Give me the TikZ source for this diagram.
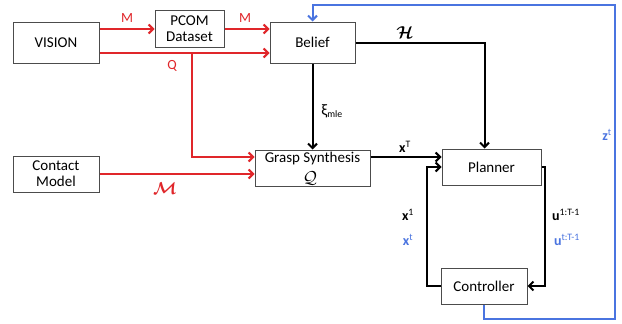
\documentclass[tikz,border=0pt]{standalone}
\usepackage{amsmath}
\usepackage{bm}
\usepackage{fontspec}
\setmainfont{Carlito}
\usetikzlibrary{arrows.meta,calc}
\definecolor{myred}{HTML}{E0262A}
\definecolor{myblue}{HTML}{4A74E0}
\begin{document}
\begin{tikzpicture}[x=1pt,y=-1pt,
  box/.style={draw=black!70, line width=1pt, inner sep=0pt, align=center, font=\fontsize{15}{16}\selectfont},
  conn/.style={line width=2pt, -{Straight Barb[length=4.5pt,width=9pt]}},
  redc/.style={conn, draw=myred},
  blkc/.style={conn, draw=black},
  bluec/.style={conn, draw=myblue},
  lab/.style={font=\fontsize{14}{15}\selectfont, inner sep=0pt},
  mlab/.style={font=\fontsize{17}{18}\selectfont, inner sep=0pt}]
\useasboundingbox (0,0) rectangle (622,324);
\fill[white] (0,0) rectangle (622,324);
\node[box, minimum width=86pt, minimum height=41pt] (vision) at (56,42.5) {VISION};
\node[box, minimum width=69pt, minimum height=37pt] (pcom) at (189.5,29) {PCOM\\Dataset};
\node[box, minimum width=85pt, minimum height=41pt] (belief) at (312.5,42.5) {Belief};
\node[box, minimum width=115pt, minimum height=36pt] (grasp) at (312.5,168) {};
\node[box, draw=none] (graspt) at (312.5,159) {Grasp Synthesis};
\node[box, draw=none, font=\fontsize{16}{17}\selectfont] (graspq) at (310,178) {$\mathcal{Q}$};
\node[box, minimum width=86pt, minimum height=36pt] (contact) at (56,174) {Contact\\Model};
\node[box, minimum width=99pt, minimum height=36pt] (planner) at (491.5,167) {Planner};
\node[box, minimum width=86pt, minimum height=36pt] (controller) at (484,286) {Controller};
% red
\draw[redc] (vision.east |- pcom.west) -- (pcom.west);
\draw[redc] (pcom.east) -- (belief.west |- pcom.east);
\draw[redc] ($(vision.east)+(0,10.5)$) -- ($(belief.west)+(0,10.5)$);
\coordinate (br) at (192,53);
\draw[redc] (br) |- ($(grasp.west)+(0,-11)$);
\draw[redc] (contact.east) -- (grasp.west |- contact.east);
% black
\draw[blkc] (belief.south) -- (grasp.north);
\draw[blkc] (belief.east) -| ($(planner.north)+(-7,0)$);
\draw[blkc] ($(grasp.east)+(0,-11)$) -- ($(planner.west)+(0,-10)$);
\draw[blkc] (planner.east) -- ++(3,0) |- (controller.east);
\draw[blkc] (controller.west) -- ++(-14,0) |- (planner.west);
% blue
\coordinate (c1) at (615,319);
\coordinate (c2) at (615,5);
\draw[bluec] (controller.south) |- (c1) -- (c2) -| (belief.north);
% labels
\node[lab, text=myred] (lm1) at (127,18) {M};
\node[lab, text=myred] (lm2) at (245,18) {M};
\node[lab, text=myred] (lq) at (172,66) {Q};
\node[mlab, text=myred] (lcm) at (165,189) {$\bm{\mathcal{M}}$};
\node[mlab] (lh) at (405,33) {$\bm{\mathcal{H}}$};
\node[lab] (lxi) at (332,111) {{\fontsize{16}{16}\selectfont ξ}\textsubscript{mle}};
\node[lab] (lxT) at (405,147) {\textbf{x}\textsuperscript{T}};
\node[lab] (lx1) at (408,215) {\textbf{x}\textsuperscript{1}};
\node[lab, text=myblue] (lxt) at (408,240) {\textbf{x}\textsuperscript{t}};
\node[lab] (lu1) at (566,215) {\textbf{u}\textsuperscript{1:T-1}};
\node[lab, text=myblue] (lut) at (567,240) {\textbf{u}\textsuperscript{t:T-1}};
\node[lab, text=myblue] (lz) at (607,135) {\textbf{z}\textsuperscript{t}};
\end{tikzpicture}
\end{document}
